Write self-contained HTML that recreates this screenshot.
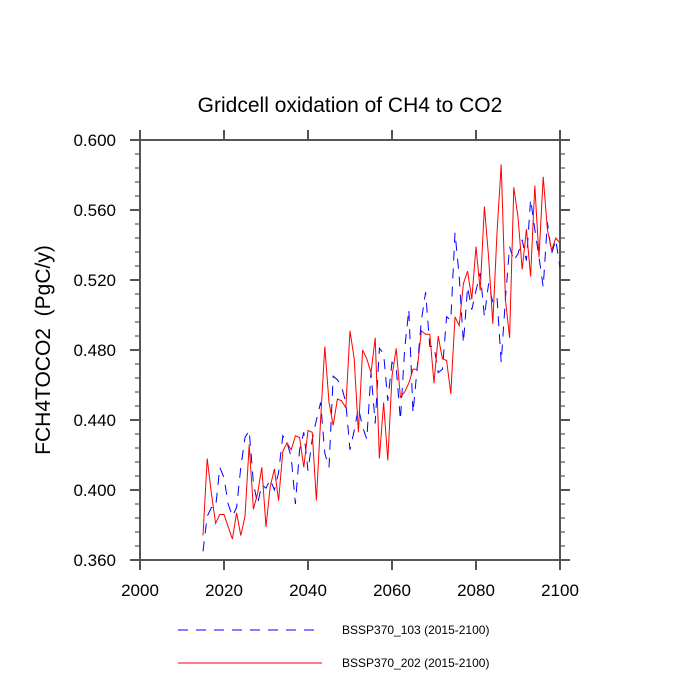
<!DOCTYPE html>
<html><head><meta charset="utf-8"><style>body{margin:0;background:#fff}svg{display:block;font-family:"Liberation Sans",sans-serif}</style></head>
<body>
<svg id="chart" width="700" height="700">
<text x="350" y="112" text-anchor="middle" font-size="21">Gridcell oxidation of CH4 to CO2</text>
<text transform="translate(50,350) rotate(-90)" text-anchor="middle" font-size="21" style="white-space:pre" xml:space="preserve">FCH4TOCO2  (PgC/y)</text>
<g id="axes"></g>
<g id="series"></g>
<g>
<line x1="178" y1="630" x2="318" y2="630" stroke="#00f" stroke-width="1" stroke-dasharray="10,8"/>
<text x="342" y="634" font-size="12">BSSP370_103 (2015-2100)</text>
<line x1="178" y1="663" x2="322" y2="663" stroke="#f00" stroke-width="1"/>
<text x="342" y="667" font-size="12">BSSP370_202 (2015-2100)</text>
</g>
</svg>
<script>
const years=[];for(let y=2015;y<=2100;y++)years.push(y);
const blueValues=[0.365,0.385,0.390,0.390,0.413,0.407,0.392,0.385,0.390,0.413,0.430,0.434,0.404,0.392,0.403,0.401,0.406,0.400,0.410,0.431,0.427,0.419,0.392,0.423,0.433,0.411,0.429,0.440,0.450,0.421,0.413,0.465,0.463,0.459,0.450,0.423,0.434,0.447,0.436,0.429,0.467,0.438,0.481,0.478,0.451,0.473,0.470,0.440,0.480,0.503,0.444,0.470,0.497,0.513,0.482,0.482,0.467,0.469,0.499,0.497,0.547,0.522,0.484,0.516,0.503,0.514,0.524,0.499,0.518,0.507,0.510,0.473,0.509,0.539,0.531,0.535,0.543,0.531,0.566,0.549,0.533,0.516,0.553,0.535,0.543,0.527];
const redValues=[0.374,0.418,0.398,0.381,0.386,0.386,0.379,0.372,0.387,0.374,0.385,0.426,0.389,0.398,0.413,0.379,0.402,0.412,0.394,0.422,0.427,0.423,0.431,0.430,0.413,0.434,0.433,0.394,0.440,0.482,0.450,0.437,0.452,0.451,0.447,0.491,0.475,0.433,0.480,0.475,0.467,0.487,0.418,0.450,0.417,0.465,0.481,0.453,0.456,0.461,0.469,0.469,0.491,0.489,0.489,0.461,0.488,0.475,0.474,0.455,0.499,0.494,0.518,0.525,0.509,0.539,0.514,0.562,0.533,0.495,0.547,0.586,0.509,0.487,0.573,0.556,0.526,0.549,0.522,0.574,0.533,0.579,0.549,0.537,0.544,0.541];
const xTicks=[2000,2020,2040,2060,2080,2100];
const yTicks=[0.360,0.400,0.440,0.480,0.520,0.560,0.600];
const X0=140,X1=560,Y0=560,Y1=140;
const sx=v=>X0+(v-2000)/100*(X1-X0);
const sy=v=>Y0-(v-0.36)/0.24*(Y0-Y1);
const NS="http://www.w3.org/2000/svg";
const AX='#555';
function mk(t,a,p){const e=document.createElementNS(NS,t);for(const k in a)e.setAttribute(k,a[k]);p.appendChild(e);return e;}
const ax=document.getElementById('axes');
const frame=mk('rect',{x:X0,y:Y1,width:X1-X0,height:Y0-Y1,fill:'none',stroke:AX,'stroke-width':2},ax);


xTicks.forEach(v=>{const x=sx(v);
 mk('line',{x1:x,y1:Y0,x2:x,y2:Y0+10,stroke:AX,'stroke-width':2},ax);mk('line',{x1:x,y1:Y1,x2:x,y2:Y1-10,stroke:AX,'stroke-width':2},ax);});
for(let i=0;i<=30;i++){const v=0.36+i*0.008;const y=sy(v);const L=(i%5===0)?10:5;
 mk('line',{x1:X0,y1:y,x2:X0-L,y2:y,stroke:AX,'stroke-width':(i%5===0)?2:1.2},ax);mk('line',{x1:X1,y1:y,x2:X1+L,y2:y,stroke:AX,'stroke-width':(i%5===0)?2:1.2},ax);}
xTicks.forEach(v=>{const t=mk('text',{x:sx(v),y:Y0+36,'text-anchor':'middle','font-size':17},ax);t.textContent=v;
 
 });
yTicks.forEach(v=>{const t=mk('text',{x:X0-24,y:sy(v)+6,'text-anchor':'end','font-size':17},ax);t.textContent=v.toFixed(3);
 
 });
const sg=document.getElementById('series');
function line(vals,color,dash,name){const d=vals.map((v,i)=>(i?'L':'M')+sx(years[i]).toFixed(1)+','+sy(v).toFixed(1)).join('');
 const p=mk('path',{d:d,fill:'none',stroke:color,'stroke-width':1,'stroke-dasharray':dash},sg);
 
 }
line(blueValues,'#00f','10,8','series-bssp370-103');
line(redValues,'#f00','none','series-bssp370-202');
</script>
</body></html>
